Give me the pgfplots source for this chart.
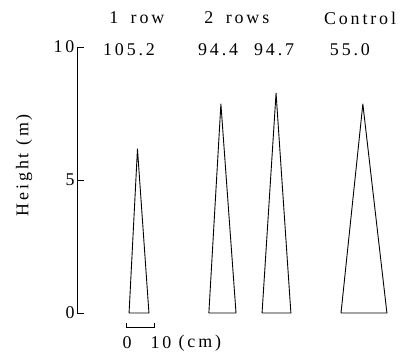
\documentclass[border=0pt]{standalone}
\usepackage{fontspec}
\setmainfont{Liberation Serif}[LetterSpace=16]
\usepackage{pgfplots}
\pgfplotsset{compat=1.18}
\begin{document}
\begin{tikzpicture}[font=\fontsize{18}{21}\selectfont]
\begin{axis}[
  x=2.8bp, y=26.6bp,
  xmin=-17.5, xmax=98,
  ymin=0, ymax=10,
  clip=false,
  axis x line=none,
  axis y line*=left,
  ytick={0,5,10},
  tick align=inside,
  major tick length=7bp,
  /pgf/number format/assume math mode=true,
  yticklabel style={font=\fontsize{18}{21}\selectfont, xshift=1bp},
  axis line style={line width=0.9pt, black},
  every tick/.style={line width=0.9pt, black},
]
% stem profiles (base width in cm, height in m)
\addplot[black, line width=0.9pt, line join=round] coordinates {(1.1,0) (4.1,6.17) (8.2,0) (1.1,0)};
\addplot[black, line width=0.9pt, line join=round] coordinates {(29.6,0) (33.9,7.86) (39.3,0) (29.6,0)};
\addplot[black, line width=0.9pt, line join=round] coordinates {(48.6,0) (53.6,8.27) (58.9,0) (48.6,0)};
\addplot[black, line width=0.9pt, line join=round] coordinates {(76.8,0) (84.6,7.86) (93.2,0) (76.8,0)};
% scale bar 0-10 cm
\addplot[black, line width=0.9pt] coordinates {(0,-0.38) (0,-0.53) (10,-0.53) (10,-0.38)};
% texts
\node at (axis cs:3.9,11.09) {1\hspace{5bp} row};
\node at (axis cs:39.6,11.09) {2\hspace{5bp} rows};
\node at (axis cs:83.6,11.09) {Control};
\node at (axis cs:1.1,9.92) {105.2};
\node at (axis cs:32.9,9.92) {94.4};
\node at (axis cs:52.9,9.92) {94.7};
\node at (axis cs:80,9.92) {55.0};
\node at (axis cs:0.4,-1.13) {0};
\node at (axis cs:12.5,-1.13) {10};
\node at (axis cs:26.4,-1.13) {(cm)};
\node[rotate=90] at (axis cs:-36.4,5.56) {Height (m)};
\path (axis cs:-45,-1.69) rectangle (axis cs:99.3,11.77);
\end{axis}
\end{tikzpicture}
\end{document}
